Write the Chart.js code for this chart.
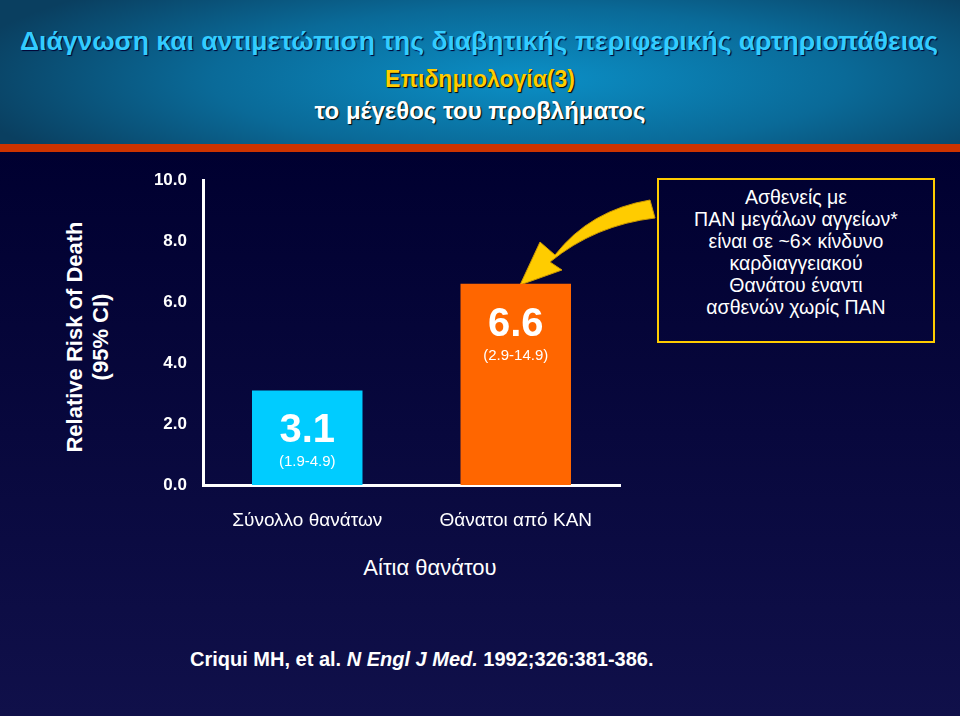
<!DOCTYPE html>
<html><head><meta charset="utf-8">
<script src="https://cdn.jsdelivr.net/npm/chart.js@4"></script>
<style>
body{margin:0;width:960px;height:716px;overflow:hidden;font-family:Arial,"Liberation Sans",sans-serif;
background:linear-gradient(#000030 150px,#10104a 716px);position:relative}
#head{position:absolute;left:0;top:0;width:960px;height:144px;
background:radial-gradient(ellipse 60% 90% at 55% 55%,#0b8fc6,#0a6a98 55%,#0a3f60)}
#band{position:absolute;left:0;top:144px;width:960px;height:8px;background:#cc3300}
.t{position:absolute;white-space:nowrap;font-weight:bold}
#cv{position:absolute;left:130px;top:160px}
#note{position:absolute;left:657px;top:178px;width:278px;height:165px;border:2px solid #ffcc00;
color:#fff;font-size:19.5px;text-align:center;line-height:22px;padding-top:6px;box-sizing:border-box}
</style></head><body>
<div id="head"></div><div id="band"></div>
<div class="t" style="left:20px;top:26px;font-size:26.5px;color:#33ccff;text-shadow:1px 1px 1px #003">Διάγνωση και αντιμετώπιση της διαβητικής περιφερικής αρτηριοπάθειας</div>
<div class="t" style="left:0;width:960px;text-align:center;top:66px;font-size:23px;color:#ffcc00;text-shadow:1px 1px 1px #000">Επιδημιολογία(3)</div>
<div class="t" style="left:0;width:960px;text-align:center;top:97px;font-size:24px;color:#fff;text-shadow:1px 1px 1px #000">το μέγεθος του προβλήματος</div>
<div class="t" style="left:88px;top:337px;transform:translate(-50%,-50%) rotate(-90deg);font-size:22px;color:#fff;text-align:center;line-height:26px">Relative Risk of Death<br>(95% CI)</div>
<div class="t" style="left:300px;width:260px;text-align:center;top:555px;font-size:22px;color:#fff;font-weight:normal">Αίτια θανάτου</div>
<div class="t" style="left:190px;top:648px;font-size:20px;color:#fff">Criqui MH, et al. <i>N Engl J Med.</i> 1992;326:381-386.</div>
<div id="note">Ασθενείς με<br>ΠΑΝ μεγάλων αγγείων*<br>είναι σε ~6× κίνδυνο<br>καρδιαγγειακού<br>Θανάτου έναντι<br>ασθενών χωρίς ΠΑΝ</div>
<svg style="position:absolute;left:500px;top:180px" width="170" height="110">
<path d="M150,20 Q90,30 55,75 L40,62 L20,105 L62,90 L50,82 Q95,45 155,38 Z" fill="#ffcc00" stroke="#cc9900" stroke-width="1"/>
</svg>
<canvas id="cv" width="500" height="380"></canvas>
<script>
const categories = ["Σύνολλο θανάτων", "Θάνατοι από ΚΑΝ"];
const riskValues = [3.1, 6.6];
const ciLabels = ["(1.9-4.9)", "(2.9-14.9)"];
const barColors = ["#00ccff", "#ff6600"];
const yTicks = [0, 2, 4, 6, 8, 10];

const barText = {
  id: "barText",
  afterDatasetsDraw(chart) {
    const ctx = chart.ctx;
    chart.getDatasetMeta(0).data.forEach((bar, i) => {
      ctx.save();
      ctx.fillStyle = "#fff";
      ctx.textAlign = "center";
      ctx.font = "bold 40px Arial";
      ctx.fillText(riskValues[i].toFixed(1), bar.x, bar.y + 52);
      ctx.font = "15px Arial";
      ctx.fillText(ciLabels[i], bar.x, bar.y + 76);
      ctx.restore();
    });
  },
};

new Chart(document.getElementById("cv"), {
  type: "bar",
  data: {
    labels: categories,
    datasets: [{ data: riskValues, backgroundColor: barColors, borderWidth: 0,
      categoryPercentage: 1, barPercentage: 0.53 }],
  },
  options: {
    responsive: false,
    animation: false,
    layout: { padding: { top: 20, right: 10 } },
    plugins: { legend: { display: false }, tooltip: { enabled: false } },
    scales: {
      x: {
        grid: { display: false, drawTicks: false },
        border: { color: "#fff", width: 3 },
        ticks: { color: "#fff", font: { size: 19, family: "Arial" }, padding: 24 },
        afterFit(s) { s.height = 55; },
      },
      y: {
        min: 0, max: 10,
        afterBuildTicks(s) { s.ticks = yTicks.map((v) => ({ value: v })); },
        grid: { display: false },
        border: { color: "#fff", width: 3 },
        ticks: { color: "#fff", font: { size: 17, weight: "bold", family: "Arial" },
          callback: (v) => v.toFixed(1), padding: 8 },
        afterFit(s) { s.width = 73; },
      },
    },
  },
  plugins: [barText],
});
</script>
</body></html>
